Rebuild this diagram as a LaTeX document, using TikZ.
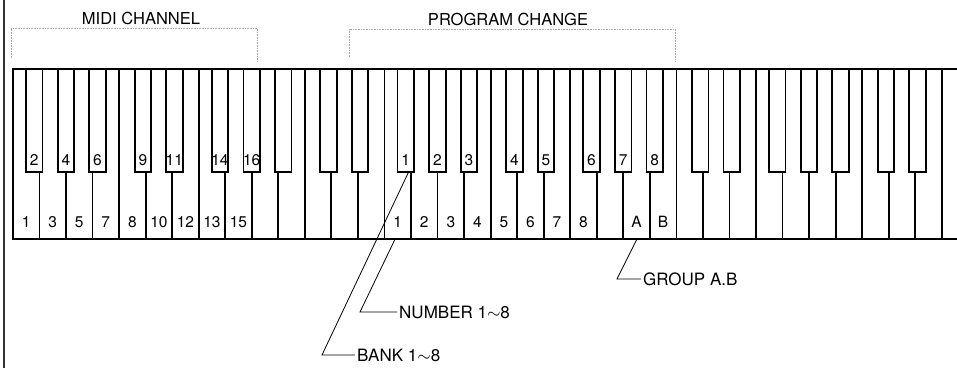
\documentclass[tikz,border=0pt]{standalone}
\usepackage{fontspec}
\setmainfont{TeX Gyre Heros}
\begin{document}
\begin{tikzpicture}[x=1pt,y=-1pt,
  wkey/.style={draw,line width=1.8pt,anchor=north west,minimum width=26.54pt,minimum height=170pt,inner sep=0pt},
  bkey/.style={draw,fill=white,line width=1.8pt,anchor=north west,minimum width=16.5pt,minimum height=103pt,inner sep=0pt},
  num/.style={font=\fontsize{15.5}{15.5}\selectfont,inner sep=0pt},
  head/.style={font=\fontsize{16.5}{16.5}\selectfont},
  lbl/.style={font=\fontsize{17}{17}\selectfont,anchor=west,inner sep=2pt},
  brk/.style={gray!70,densely dotted,line width=0.6pt},
  lead/.style={line width=0.8pt}]
\clip (0,0) rectangle (957,368);
% left border
\draw[line width=1.2pt,black!80] (4,0) -- (4,368);
% white keys, starting on F
\foreach \i in {0,...,35} \node[wkey] (w\i) at (12+\i*26.54,68) {};
% black keys, five octaves
\foreach \k in {0,...,4} {\foreach \o [count=\n] in {13,44.8,76.3,121.7,153.2} {\node[bkey] (b\k-\n) at (12+\k*185.78+\o,68) {};}}
% midi channel numbers
\foreach \i/\t in {0/1,1/3,2/5,3/7,4/8,5/10,6/12,7/13,8/15} \node[num] (m\i) at ([yshift=18pt]w\i.south) {\t};
\foreach \k/\n/\t in {0/1/2,0/2/4,0/3/6,0/4/9,0/5/11,1/1/14,1/2/16} \node[num] (m\k-\n) at ([yshift=13pt]b\k-\n.south) {\t};
% program change numbers
\foreach \i/\t in {14/1,15/2,16/3,17/4,18/5,19/6,20/7,21/8,23/A,24/B} \node[num] (p\i) at ([yshift=18pt]w\i.south) {\t};
\foreach \k/\n/\t in {2/1/1,2/2/2,2/3/3,2/4/4,2/5/5,3/1/6,3/2/7,3/3/8} \node[num] (p\k-\n) at ([yshift=13pt]b\k-\n.south) {\t};
% headings with dotted brackets
\node[head] (midi) at (141,18.5) {MIDI CHANNEL};
\node[head] (prog) at (508,19) {PROGRAM CHANGE};
\draw[brk] (11,58) -- (11,28) -- (257,28) -- (257,62);
\draw[brk] (349,57) -- (349,29) -- (675,29) -- (675,62);
% leaders
\node[lbl] (bank) at (355,355) {BANK 1$\sim$8};
\node[lbl] (number) at (397,312) {NUMBER 1$\sim$8};
\node[lbl] (group) at (641,279) {GROUP A.B};
\draw[lead] ([xshift=2.5pt]b2-1.south) -- ([xshift=-33pt]bank.west) -- (bank.west);
\draw[lead] ([xshift=-3pt]w14.south) -- ([xshift=-37pt]number.west) -- (number.west);
\draw[lead] (w23.south) -- ([xshift=-24pt]group.west) -- (group.west);
\end{tikzpicture}
\end{document}
